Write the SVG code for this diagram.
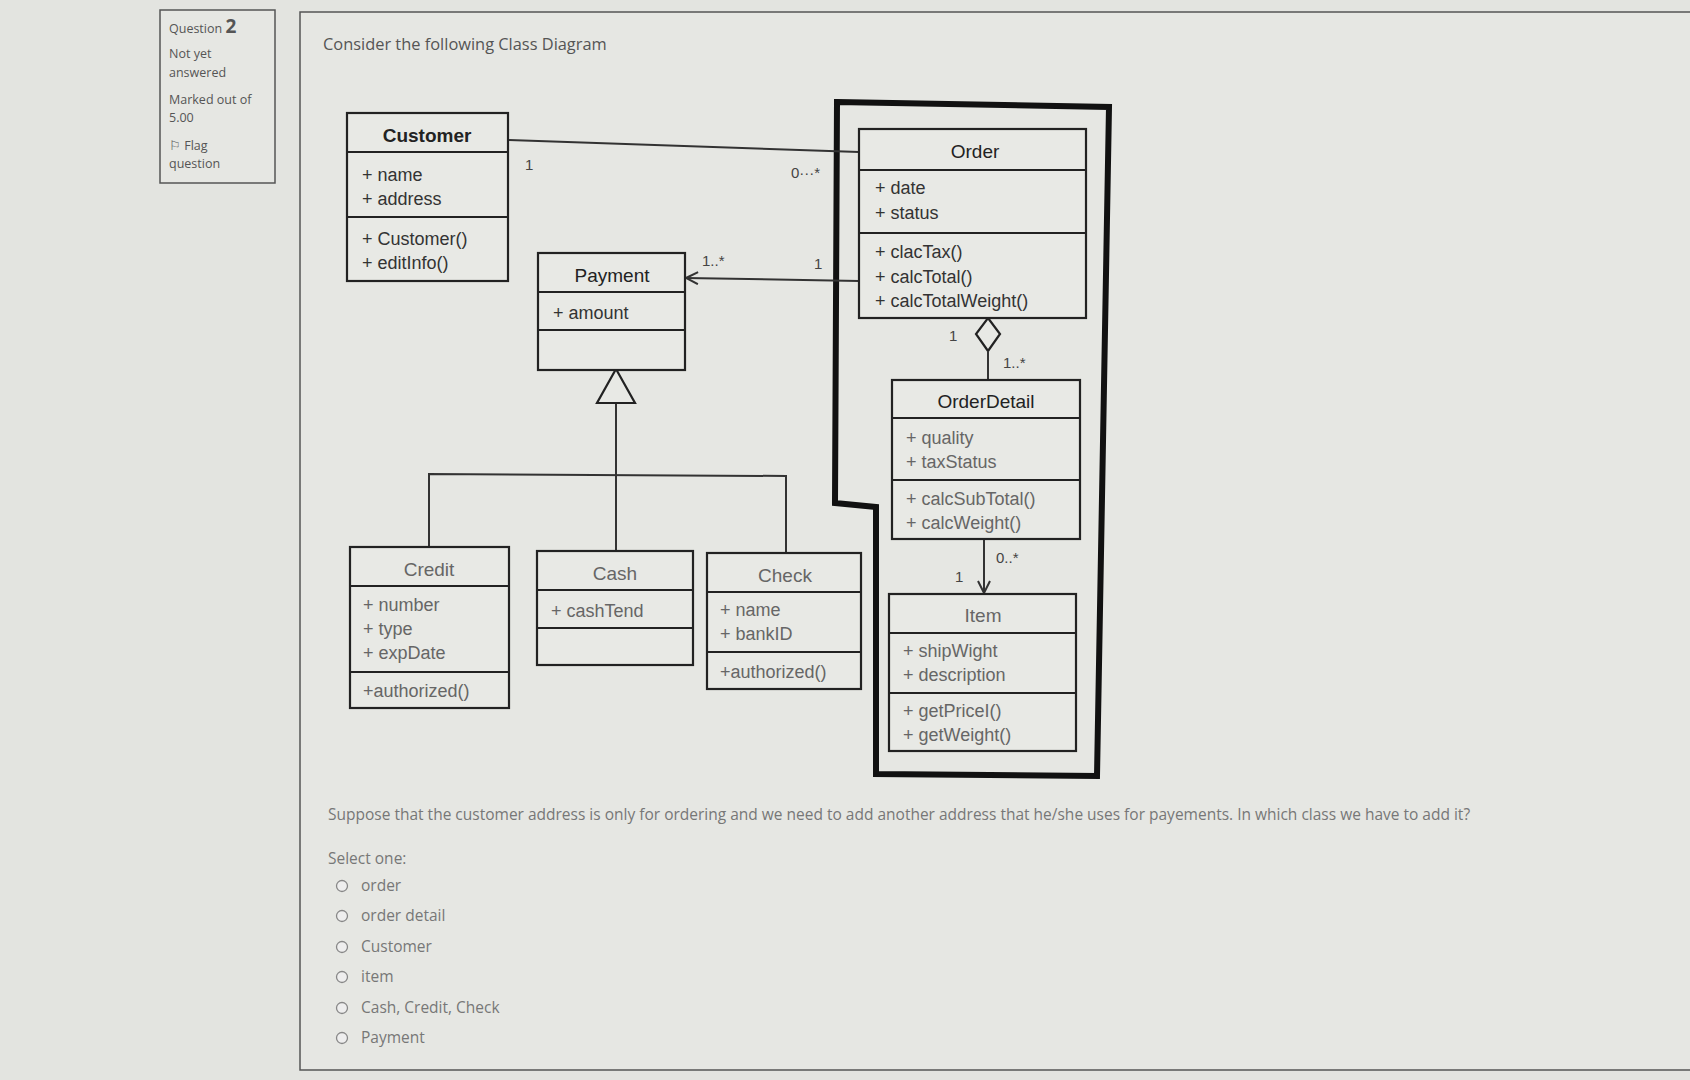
<svg xmlns="http://www.w3.org/2000/svg" width="1690" height="1080" viewBox="0 0 1690 1080">
<defs>
<style>
.bg{fill:#e3e4e0}
.panel{fill:#e6e7e3;stroke:#555;stroke-width:1.5}
.cls{fill:#e8e9e5;stroke:#222;stroke-width:2.2}
.div{stroke:#222;stroke-width:2.2}
.ttl{font-family:"Liberation Sans",Arial,sans-serif;font-size:19px;fill:#222;text-anchor:middle}
.ttlb{font-weight:bold}
.att{font-family:"Liberation Sans",Arial,sans-serif;font-size:18px;fill:#333}
.lt{fill:#666}
.lbl{font-family:"Liberation Sans",Arial,sans-serif;font-size:15px;fill:#444}
.conn{stroke:#333;stroke-width:2;fill:none}
.ui{font-family:"Open Sans","Noto Sans",sans-serif;fill:#555}
.opt{font-family:"Open Sans","Noto Sans",sans-serif;font-size:15.5px;fill:#777}
.radio{fill:#eee;stroke:#888;stroke-width:1.3}
</style>
<marker id="open" viewBox="0 0 14 14" refX="13" refY="7" markerWidth="14" markerHeight="14" markerUnits="userSpaceOnUse" orient="auto">
<path d="M1,1 L13,7 L1,13" fill="none" stroke="#333" stroke-width="2"/>
</marker>
</defs>
<rect class="bg" x="0" y="0" width="1690" height="1080"/>

<g id="question-info">
<rect class="panel" x="160" y="10" width="115" height="173"/>
<text class="ui" x="169" y="33" font-size="12.5" fill="#333">Question <tspan font-size="19" font-weight="bold">2</tspan></text>
<text class="ui" x="169" y="58" font-size="12.5">Not yet</text>
<text class="ui" x="169" y="77" font-size="12.5">answered</text>
<text class="ui" x="169" y="104" font-size="12.5">Marked out of</text>
<text class="ui" x="169" y="122" font-size="12.5">5.00</text>
<text class="ui" x="169" y="150" font-size="12.5">⚐ Flag</text>
<text class="ui" x="169" y="168" font-size="12.5">question</text>
</g>

<g id="content-panel">
<rect class="panel" x="300" y="12" width="1400" height="1058"/>
<text class="ui" x="323" y="50" font-size="16.4" fill="#444">Consider the following Class Diagram</text>
</g>

<g id="boundary">
<path d="M837,102 L1109,107 L1097,776 L876,774 L876,507 L835,503 Z" fill="none" stroke="#111" stroke-width="6" stroke-linejoin="miter"/>
</g>

<g id="connectors">
<path class="conn" d="M509,140 L859,152"/>
<path class="conn" d="M859,281 L686,278" marker-end="url(#open)"/>
<path class="conn" d="M616,403 L616,551"/>
<path class="conn" d="M429,547 L429,474 L786,476 L786,553"/>
<path d="M988,318 L1000,334 L988,351 L976,334 Z" fill="#e8e9e5" stroke="#222" stroke-width="2.2"/>
<path class="conn" d="M988,351 L988,379"/>
<path class="conn" d="M984,539 L984,593" marker-end="url(#open)"/>
<path d="M616,369 L635,403 L597,403 Z" fill="#e8e9e5" stroke="#222" stroke-width="2.2"/>
<text class="lbl" x="525" y="170">1</text>
<text class="lbl" x="791" y="178">0···*</text>
<text class="lbl" x="702" y="266">1..*</text>
<text class="lbl" x="814" y="269">1</text>
<text class="lbl lt" x="949" y="341">1</text>
<text class="lbl lt" x="1003" y="368">1..*</text>
<text class="lbl lt" x="996" y="563">0..*</text>
<text class="lbl lt" x="955" y="582">1</text>
</g>

<g id="customer">
<rect class="cls" x="347" y="113" width="161" height="168"/>
<line class="div" x1="347" y1="152" x2="508" y2="152"/>
<line class="div" x1="347" y1="217" x2="508" y2="217"/>
<text class="ttl ttlb" x="427" y="142">Customer</text>
<text class="att" x="362" y="181">+ name</text>
<text class="att" x="362" y="205">+ address</text>
<text class="att" x="362" y="245">+ Customer()</text>
<text class="att" x="362" y="269">+ editInfo()</text>
</g>

<g id="order">
<rect class="cls" x="859" y="129" width="227" height="189"/>
<line class="div" x1="859" y1="170" x2="1086" y2="170"/>
<line class="div" x1="859" y1="233" x2="1086" y2="233"/>
<text class="ttl" x="975" y="158">Order</text>
<text class="att" x="875" y="194">+ date</text>
<text class="att" x="875" y="219">+ status</text>
<text class="att" x="875" y="258">+ clacTax()</text>
<text class="att" x="875" y="283">+ calcTotal()</text>
<text class="att" x="875" y="307">+ calcTotalWeight()</text>
</g>

<g id="payment">
<rect class="cls" x="538" y="253" width="147" height="117"/>
<line class="div" x1="538" y1="292" x2="685" y2="292"/>
<line class="div" x1="538" y1="330" x2="685" y2="330"/>
<text class="ttl" x="612" y="282">Payment</text>
<text class="att" x="553" y="319">+ amount</text>
</g>

<g id="orderdetail">
<rect class="cls" x="892" y="380" width="188" height="159"/>
<line class="div" x1="892" y1="418" x2="1080" y2="418"/>
<line class="div" x1="892" y1="480" x2="1080" y2="480"/>
<text class="ttl" x="986" y="408">OrderDetail</text>
<text class="att lt" x="906" y="444">+ quality</text>
<text class="att lt" x="906" y="468">+ taxStatus</text>
<text class="att lt" x="906" y="505">+ calcSubTotal()</text>
<text class="att lt" x="906" y="529">+ calcWeight()</text>
</g>

<g id="credit">
<rect class="cls" x="350" y="547" width="159" height="161"/>
<line class="div" x1="350" y1="586" x2="509" y2="586"/>
<line class="div" x1="350" y1="672" x2="509" y2="672"/>
<text class="ttl lt" x="429" y="576">Credit</text>
<text class="att lt" x="363" y="611">+ number</text>
<text class="att lt" x="363" y="635">+ type</text>
<text class="att lt" x="363" y="659">+ expDate</text>
<text class="att lt" x="363" y="697">+authorized()</text>
</g>

<g id="cash">
<rect class="cls" x="537" y="551" width="156" height="114"/>
<line class="div" x1="537" y1="590" x2="693" y2="590"/>
<line class="div" x1="537" y1="628" x2="693" y2="628"/>
<text class="ttl lt" x="615" y="580">Cash</text>
<text class="att lt" x="551" y="617">+ cashTend</text>
</g>

<g id="check">
<rect class="cls" x="707" y="553" width="154" height="136"/>
<line class="div" x1="707" y1="592" x2="861" y2="592"/>
<line class="div" x1="707" y1="652" x2="861" y2="652"/>
<text class="ttl lt" x="785" y="582">Check</text>
<text class="att lt" x="720" y="616">+ name</text>
<text class="att lt" x="720" y="640">+ bankID</text>
<text class="att lt" x="720" y="678">+authorized()</text>
</g>

<g id="item">
<rect class="cls" x="889" y="594" width="187" height="157"/>
<line class="div" x1="889" y1="633" x2="1076" y2="633"/>
<line class="div" x1="889" y1="693" x2="1076" y2="693"/>
<text class="ttl lt" x="983" y="622">Item</text>
<text class="att lt" x="903" y="657">+ shipWight</text>
<text class="att lt" x="903" y="681">+ description</text>
<text class="att lt" x="903" y="717">+ getPriceI()</text>
<text class="att lt" x="903" y="741">+ getWeight()</text>
</g>

<g id="question-text">
<text class="opt" x="328" y="820">Suppose that the customer address is only for ordering and we need to add another address that he/she uses for payements. In which class we have to add it?</text>
<text class="opt" x="328" y="864">Select one:</text>
<circle class="radio" cx="342" cy="886" r="5.5"/><text class="opt" x="361" y="891">order</text>
<circle class="radio" cx="342" cy="916" r="5.5"/><text class="opt" x="361" y="921">order detail</text>
<circle class="radio" cx="342" cy="947" r="5.5"/><text class="opt" x="361" y="952">Customer</text>
<circle class="radio" cx="342" cy="977" r="5.5"/><text class="opt" x="361" y="982">item</text>
<circle class="radio" cx="342" cy="1008" r="5.5"/><text class="opt" x="361" y="1013">Cash, Credit, Check</text>
<circle class="radio" cx="342" cy="1038" r="5.5"/><text class="opt" x="361" y="1043">Payment</text>
</g>
</svg>
